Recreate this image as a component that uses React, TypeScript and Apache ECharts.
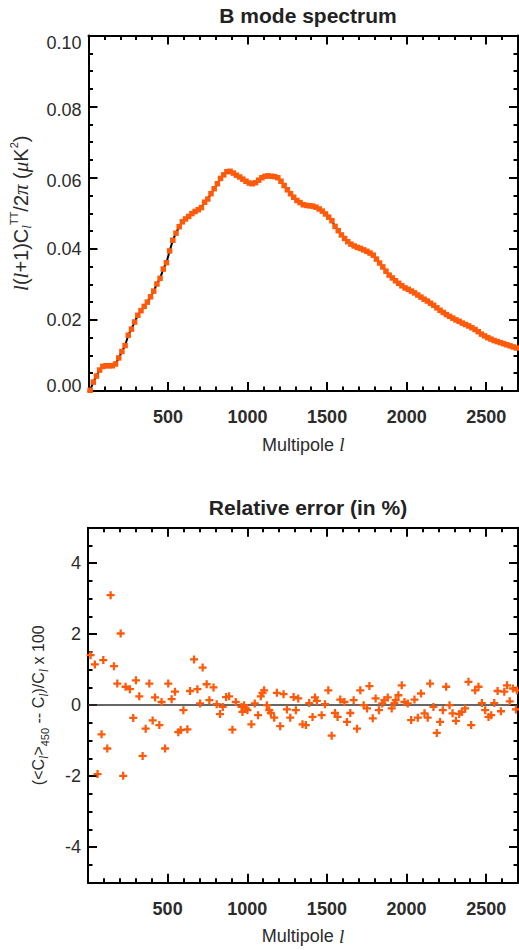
import React, { useEffect, useRef } from "react";
import * as echarts from "echarts";

const FONT = '"Liberation Sans", Arial, Helvetica, sans-serif';
const ORANGE = "#ff5a0a";
const TEXT = "#2b2b2b";

// Top panel: binned B-mode spectrum, l(l+1)C_l/2pi (uK^2)
const L_SPEC = [
  10, 30, 50, 70, 90, 110, 130, 150, 170, 190, 210, 230, 250, 270, 290, 310, 330, 350, 370, 390,
  410, 430, 450, 470, 490, 510, 530, 550, 570, 590, 610, 630, 650, 670, 690, 710, 730, 750, 770, 790,
  810, 830, 850, 870, 890, 910, 930, 950, 970, 990, 1010, 1030, 1050, 1070, 1090, 1110, 1130, 1150, 1170, 1190,
  1210, 1230, 1250, 1270, 1290, 1310, 1330, 1350, 1370, 1390, 1410, 1430, 1450, 1470, 1490, 1510, 1530, 1550, 1570, 1590,
  1610, 1630, 1650, 1670, 1690, 1710, 1730, 1750, 1770, 1790, 1810, 1830, 1850, 1870, 1890, 1910, 1930, 1950, 1970, 1990,
  2010, 2030, 2050, 2070, 2090, 2110, 2130, 2150, 2170, 2190, 2210, 2230, 2250, 2270, 2290, 2310, 2330, 2350, 2370, 2390,
  2410, 2430, 2450, 2470, 2490, 2510, 2530, 2550, 2570, 2590, 2610, 2630, 2650, 2670, 2690,
];
const CL_SPEC = [
  0.0002, 0.0025, 0.0042, 0.0059, 0.0069, 0.0071, 0.0071, 0.0071, 0.0076, 0.0093, 0.0111, 0.0128, 0.0157, 0.0174, 0.0194, 0.0213, 0.0226, 0.0238, 0.025, 0.0265,
  0.0281, 0.0301, 0.0317, 0.0343, 0.0361, 0.0394, 0.0424, 0.0444, 0.0462, 0.0476, 0.0484, 0.0491, 0.0499, 0.0505, 0.051, 0.0516, 0.0531, 0.054, 0.0555, 0.0569,
  0.0583, 0.0598, 0.0608, 0.0617, 0.0618, 0.0613, 0.0607, 0.0602, 0.0596, 0.059, 0.0585, 0.0583, 0.0586, 0.0593, 0.06, 0.0604, 0.0605, 0.0604, 0.0603, 0.06,
  0.059, 0.0578, 0.0566, 0.0555, 0.0545, 0.0536, 0.053, 0.0524, 0.0522, 0.0521, 0.052, 0.0517, 0.0512, 0.0506, 0.0498, 0.0489, 0.0479, 0.0463, 0.0451, 0.0439,
  0.0429, 0.042, 0.0413, 0.0408, 0.0404, 0.0401, 0.0397, 0.0393, 0.0388, 0.0382, 0.0371, 0.036, 0.0349, 0.0337, 0.0326, 0.0318, 0.031, 0.0303, 0.0296, 0.029,
  0.0286, 0.0281, 0.0276, 0.027, 0.0264, 0.0258, 0.0253, 0.0247, 0.0241, 0.0234, 0.0227, 0.0221, 0.0215, 0.021, 0.0205, 0.02, 0.0196, 0.0191, 0.0187, 0.0183,
  0.0178, 0.0173, 0.0167, 0.016, 0.0155, 0.015, 0.0146, 0.0142, 0.0139, 0.0136, 0.0133, 0.013, 0.0127, 0.0124, 0.0121,
];

// Bottom panel: relative error (%)
const ERR_L = [
  16, 43, 60, 85, 96, 121, 142, 163, 184, 205, 221, 236, 263, 284, 301, 322, 343, 362, 385, 406,
  421, 448, 462, 484, 504, 525, 546, 567, 582, 599, 624, 641, 666, 687, 704, 720, 745, 762, 788, 808,
  829, 846, 867, 886, 907, 928, 964, 970, 980, 991, 1001, 1026, 1047, 1068, 1085, 1096, 1106, 1123, 1138, 1148,
  1169, 1186, 1207, 1228, 1249, 1270, 1291, 1305, 1320, 1347, 1368, 1389, 1410, 1425, 1437, 1467, 1488, 1509, 1530, 1551,
  1567, 1584, 1610, 1626, 1647, 1668, 1689, 1710, 1731, 1752, 1767, 1788, 1806, 1827, 1848, 1861, 1882, 1907, 1924, 1932,
  1949, 1970, 1987, 2008, 2029, 2050, 2071, 2091, 2113, 2133, 2148, 2169, 2190, 2211, 2228, 2249, 2270, 2289, 2310, 2331,
  2347, 2368, 2389, 2406, 2431, 2452, 2473, 2494, 2515, 2532, 2551, 2572, 2593, 2614, 2631, 2648, 2668, 2687, 2693,
];
const ERR_V = [
  1.41, 1.15, -1.94, -0.82, 1.27, -1.22, 3.1, 1.1, 0.61, 2.02, -1.99, 0.52, 0.45, -0.36, 0.7, 0.25, -1.43, -0.66, 0.61, -0.43,
  0.22, -0.56, 0.09, -1.22, 0.61, 0.17, 0.38, -0.76, -0.7, -0.14, -0.68, 0.4, 1.29, 0.45, 0.05, 1.06, 0.59, 0.14, 0.5, 0.03,
  -0.25, -0.05, 0.23, 0.25, -0.69, 0.09, -0.05, -0.19, 0, -0.09, -0.14, -0.54, 0.05, -0.28, 0.25, 0.35, 0.42, 0, -0.14, -0.22,
  -0.35, 0.35, -0.59, 0.31, -0.12, -0.35, 0.23, -0.14, 0.19, -0.54, -0.56, 0.06, -0.33, 0.22, 0.12, -0.28, 0.03, 0.42, -0.86, -0.22,
  -0.33, 0.16, 0.09, -0.47, -0.22, 0.14, -0.66, 0.42, 0, -0.09, 0.54, -0.37, 0.19, -0.14, 0.05, 0.14, 0.22, -0.09, 0.06, 0.14,
  0.28, 0.56, 0.09, 0.05, -0.42, 0.16, -0.35, 0.33, -0.23, -0.35, 0.61, -0.05, -0.78, -0.47, -0.14, 0.52, 0, -0.23, -0.44, -0.25,
  -0.19, -0.09, 0.66, -0.56, 0.42, 0.52, 0.06, -0.14, -0.33, -0.28, 0.06, 0.4, -0.17, 0.38, 0.56, 0.11, 0.47, -0.12, 0.42,
];

const X_LABEL_TICKS = [500, 1000, 1500, 2000, 2500];
const ERR_TICKS = [-4, -2, 0, 2, 4];

const PLUS = "path://M5,0h4v5h5v4h-5v5h-4v-5h-5v-4h5z";

function xAxis(gridIndex: number, position: string, interval: number, tickLen: number, opts: any = {}) {
  return {
    type: "value",
    gridIndex,
    position,
    min: 0,
    max: 2700,
    interval,
    axisLine: { show: !!opts.line, onZero: false, lineStyle: { color: "#000", width: 2 } },
    axisTick: { show: true, inside: true, length: tickLen, lineStyle: { color: "#000", width: 2 } },
    axisLabel: opts.labels
      ? {
          show: true,
          margin: 17,
          color: TEXT,
          fontFamily: FONT,
          fontSize: 18,
          fontWeight: "bold",
          customValues: X_LABEL_TICKS,
          formatter: (v: number) => String(v),
        }
      : { show: false },
    splitLine: { show: false },
    ...(opts.name
      ? {
          name: "{n|Multipole }{i|l}",
          nameLocation: "middle",
          nameGap: 44,
          nameTextStyle: {
            rich: {
              n: { fontFamily: FONT, fontSize: 18, color: TEXT },
              i: { fontFamily: '"Liberation Serif", serif', fontStyle: "italic", fontSize: 19, color: TEXT },
            },
          },
        }
      : {}),
  };
}

function yAxis(gridIndex: number, position: string, min: number, max: number, interval: number, tickLen: number, opts: any = {}) {
  return {
    type: "value",
    gridIndex,
    position,
    min,
    max,
    interval,
    axisLine: { show: !!opts.line, onZero: false, lineStyle: { color: "#000", width: 2 } },
    axisTick: {
      show: true,
      inside: true,
      length: tickLen,
      lineStyle: { color: "#000", width: 2 },
      ...(opts.tickValues ? { customValues: opts.tickValues } : {}),
    },
    axisLabel: opts.labels
      ? {
          show: true,
          margin: 7,
          color: TEXT,
          fontFamily: FONT,
          fontSize: 18,
          ...(opts.labelValues ? { customValues: opts.labelValues } : {}),
          ...(opts.formatter ? { formatter: opts.formatter } : {}),
          rich: {
            top: { fontFamily: FONT, fontSize: 18, color: TEXT, padding: [14, 0, 0, 0] },
            mid: { fontFamily: FONT, fontSize: 18, color: TEXT, padding: [6, 0, 0, 0] },
            bot: { fontFamily: FONT, fontSize: 18, color: TEXT, padding: [0, 0, 10, 0] },
          },
        }
      : { show: false },
    splitLine: { show: false },
    ...(opts.name
      ? {
          name: opts.name,
          nameLocation: "middle",
          nameGap: opts.nameGap,
          nameRotate: 90,
          nameTextStyle: { rich: opts.rich },
        }
      : {}),
  };
}

const yRich = (size: number, sub: number) => ({
  n: { fontFamily: FONT, fontSize: size, color: TEXT, lineHeight: 24 },
  i: { fontFamily: '"Liberation Serif", serif', fontStyle: "italic", fontSize: size + 1, color: TEXT, lineHeight: 24 },
  sub: { fontFamily: FONT, fontSize: sub, color: TEXT, lineHeight: 12, verticalAlign: "bottom" },
  subi: { fontFamily: '"Liberation Serif", serif', fontStyle: "italic", fontSize: sub + 1, color: TEXT, lineHeight: 12, verticalAlign: "bottom" },
  sup: { fontFamily: FONT, fontSize: sub - 1, color: TEXT, lineHeight: 12, verticalAlign: "top" },
});

export default function App() {
  const ref = useRef<HTMLDivElement>(null);

  useEffect(() => {
    document.body.style.margin = "0";
    const chart = echarts.init(ref.current as HTMLDivElement, null, { renderer: "svg" });

    const specData = L_SPEC.map((l, i) => [l, CL_SPEC[i]]);
    const errData = ERR_L.map((l, i) => [l, ERR_V[i]]);

    const topYFormatter = (v: number) => {
      if (Math.abs(v - 0.1) < 1e-9) return "{top|0.10}";
      if (Math.abs(v) < 1e-9) return "{bot|0.00}";
      if (Math.abs(v - 0.08) < 1e-9 || Math.abs(v - 0.06) < 1e-9) return "{mid|" + v.toFixed(2) + "}";
      return v.toFixed(2);
    };

    const option: any = {
      animation: false,
      backgroundColor: "#fff",
      title: [
        {
          text: "B mode spectrum",
          left: 303,
          top: 0,
          textAlign: "center",
          textStyle: { fontFamily: FONT, fontSize: 21, fontWeight: "bold", color: "#222" },
        },
        {
          text: "Relative error (in %)",
          left: 303,
          top: 492,
          textAlign: "center",
          textStyle: { fontFamily: FONT, fontSize: 21, fontWeight: "bold", color: "#222" },
        },
      ],
      grid: [
        { left: 88.5, top: 35.5, width: 429.5, height: 355.5 },
        { left: 88, top: 527.7, width: 430, height: 355 },
      ],
      xAxis: [
        xAxis(0, "bottom", 500, 9, { labels: true, name: true }),
        xAxis(0, "bottom", 100, 4.5, { line: true }),
        xAxis(0, "top", 500, 9),
        xAxis(0, "top", 100, 4.5, { line: true }),
        xAxis(1, "bottom", 500, 9, { labels: true, name: true }),
        xAxis(1, "bottom", 100, 4.5, { line: true }),
        xAxis(1, "top", 500, 9),
        xAxis(1, "top", 100, 4.5, { line: true }),
      ],
      yAxis: [
        yAxis(0, "left", 0, 0.1, 0.02, 9, {
          labels: true,
          formatter: topYFormatter,
          name: "{i|l}{n|(}{i|l}{n|+1)C}{subi|l}{sup|TT}{n|/2}{i|π}{n| (}{i|μ}{n|K}{sup|2}{n|)}",
          nameGap: 56,
          rich: yRich(20, 12),
        }),
        yAxis(0, "left", 0, 0.1, 0.005, 4.5, { line: true }),
        yAxis(0, "right", 0, 0.1, 0.02, 9),
        yAxis(0, "right", 0, 0.1, 0.005, 4.5, { line: true }),
        yAxis(1, "left", -5, 5, 1, 9, {
          labels: true,
          tickValues: ERR_TICKS,
          labelValues: ERR_TICKS,
          formatter: (v: number) => String(v),
          name: "{n|(<C}{subi|l}{n|>}{sub|450}{n| -- C}{subi|l}{n|)/C}{subi|l}{n| x 100}",
          nameGap: 38,
          rich: yRich(16, 11),
        }),
        yAxis(1, "left", -5, 5, 0.5, 4.5, { line: true }),
        yAxis(1, "right", -5, 5, 1, 9, { tickValues: ERR_TICKS }),
        yAxis(1, "right", -5, 5, 0.5, 4.5, { line: true }),
      ],
      series: [
        {
          type: "line",
          xAxisIndex: 0,
          yAxisIndex: 0,
          data: specData,
          showSymbol: false,
          symbol: "none",
          lineStyle: { color: "#000", width: 2 },
          z: 2,
          silent: true,
        },
        {
          type: "scatter",
          xAxisIndex: 0,
          yAxisIndex: 0,
          data: specData,
          symbol: "rect",
          symbolSize: 5.5,
          itemStyle: { color: ORANGE, opacity: 1 },
          z: 3,
          silent: true,
        },
        {
          type: "scatter",
          xAxisIndex: 4,
          yAxisIndex: 4,
          data: errData,
          symbol: PLUS,
          symbolSize: 8,
          itemStyle: { color: ORANGE, opacity: 1 },
          z: 3,
          silent: true,
          markLine: {
            silent: true,
            symbol: "none",
            label: { show: false },
            lineStyle: { color: "#333", width: 1.5, type: "solid" },
            data: [{ yAxis: 0 }],
            z: 1,
          },
        },
      ],
    };

    chart.setOption(option);
    return () => chart.dispose();
  }, []);

  return <div ref={ref} style={{ width: 519, height: 950 }} />;
}
